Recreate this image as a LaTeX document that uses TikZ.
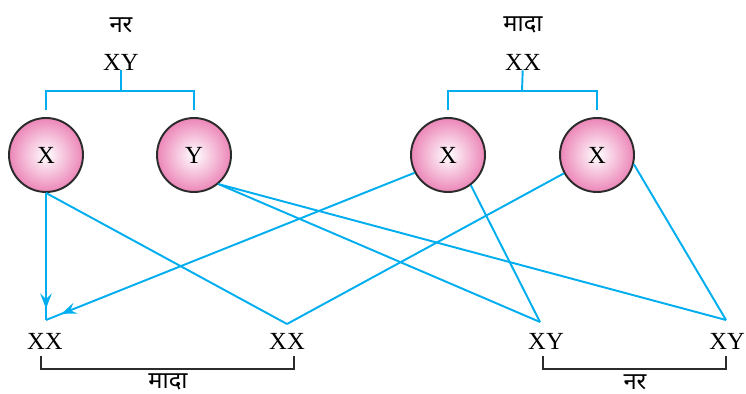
\documentclass[tikz,border=0pt]{standalone}
\usepackage{fontspec}
\setmainfont{Liberation Serif}
\newfontfamily\hindi[Script=Devanagari]{Noto Sans}
\usetikzlibrary{arrows.meta, decorations.markings, calc}
\definecolor{cblue}{HTML}{00AEEF}
\definecolor{cpink}{HTML}{EC86B8}
\definecolor{cdark}{HTML}{2B2B2B}
\tikzset{
  every picture/.style={x=0.02cm, y=-0.02cm},
  gamete/.style={circle, draw=cdark, line width=1.1pt, inner color=white, outer color=cpink,
    minimum size=1.48cm, inner sep=0pt, font=\fontsize{14}{16}\selectfont},
  geno/.style={font=\fontsize{14}{16}\selectfont, inner sep=0pt},
  sexlbl/.style={font=\hindi\fontsize{13.5}{15}\selectfont, inner sep=0pt},
  link/.style={draw=cblue, line width=1.1pt},
  brk/.style={draw=cdark, line width=1.1pt},
  tip/.style={postaction={decorate}, decoration={markings,
    mark=at position #1 with {\arrow[cblue]{Stealth[length=3mm, width=2.3mm, inset=1.1mm]}}}},
}

\begin{document}
\begin{tikzpicture}
  \useasboundingbox (0,0) rectangle (746,394);
  % parents
  \node[sexlbl] (mlbl) at (121,25) {नर};
  \node[geno] (mxy) at (121,62) {XY};
  \node[sexlbl] (flbl) at (523,25) {मादा};
  \node[geno] (fxx) at (523,62) {XX};
  % gametes
  \node[gamete] (mx) at (46,155) {X};
  \node[gamete] (my) at (194,155) {Y};
  \node[gamete] (fx1) at (448,155) {X};
  \node[gamete] (fx2) at (597,155) {X};
  \coordinate (mbar) at (121,91);
  \coordinate (fbar) at (522,91);
  \draw[link] (mxy) -- (mbar);
  \draw[link] ([yshift=0.14cm]mx.north) |- (mbar) -| ([yshift=0.14cm]my.north);
  \draw[link] (fxx) -- (fbar);
  \draw[link] ([yshift=0.14cm]fx1.north) |- (fbar) -| ([yshift=0.14cm]fx2.north);
  % offspring
  \node[geno] (c1) at (45,341) {XX};
  \node[geno] (c2) at (287,341) {XX};
  \node[geno] (c3) at (546,341) {XY};
  \node[geno] (c4) at (727,341) {XY};
  \coordinate (p1) at (46,320);
  \coordinate (p2) at (287,324);
  \coordinate (p3) at (540,322);
  \coordinate (p4) at (726,320);
  % crosses
  \draw[link, tip=0.91] (mx.south) -- (p1);
  \draw[link] (mx.south) -- (p2);
  \draw[link] (my.-50) -- (p3);
  \draw[link] (my.-50) -- (p4);
  \draw[link, tip=0.958] (fx1.-152) -- (p1);
  \draw[link] (fx1.-53) -- (p3);
  \draw[link] (fx2.-151) -- (p2);
  \draw[link] (fx2.-14) -- (p4);
  % groups
  \coordinate (b1) at (41,356);
  \coordinate (b2) at (294,356);
  \coordinate (b3) at (543,356);
  \coordinate (b4) at (726,356);
  \draw[brk] (b1) -- ++(0,13) -| (b2);
  \draw[brk] (b3) -- ++(0,13) -| (b4);
  \node[sexlbl] (flbl2) at (168,382) {मादा};
  \node[sexlbl] (mlbl2) at (635,382) {नर};
\end{tikzpicture}
\end{document}
